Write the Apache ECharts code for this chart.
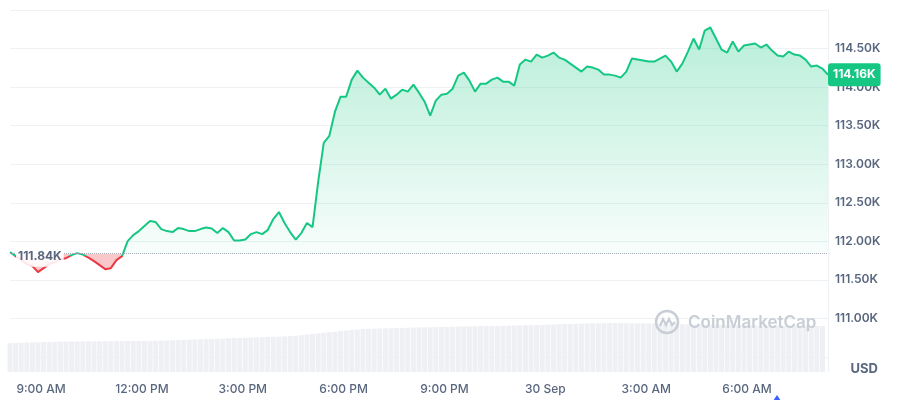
<!DOCTYPE html>
<html>
<head>
<meta charset="utf-8">
<script src="https://cdn.jsdelivr.net/npm/echarts@6/dist/echarts.min.js"></script>
<style>
html,body{margin:0;padding:0;background:#fff;}
#chart{width:900px;height:400px;}
</style>
</head>
<body>
<div id="chart"></div>
<script>
// ---- data ----
const startHour = 8.075;          // hours since 29 Sep 00:00
const stepHours = 1 / 6;          // 10-minute samples
const priceK = [
  111.860,111.808,111.756,111.704,111.678,111.600,111.652,111.704,111.730,111.769,
  111.782,111.821,111.847,111.828,111.789,111.743,111.691,111.639,111.652,111.756,
  111.808,112.003,112.081,112.133,112.198,112.263,112.250,112.159,112.133,112.120,
  112.172,112.159,112.133,112.133,112.159,112.179,112.166,112.107,112.172,112.120,
  112.010,112.010,112.023,112.094,112.120,112.094,112.146,112.289,112.380,112.237,
  112.120,112.023,112.107,112.237,112.185,112.770,113.278,113.369,113.681,113.876,
  113.876,114.097,114.214,114.123,114.058,113.993,113.902,113.980,113.850,113.902,
  113.967,113.941,114.032,113.928,113.811,113.629,113.824,113.902,113.915,113.980,
  114.149,114.188,114.084,113.941,114.045,114.045,114.097,114.123,114.071,114.071,
  114.019,114.292,114.357,114.331,114.422,114.383,114.409,114.448,114.383,114.357,
  114.305,114.253,114.201,114.266,114.253,114.227,114.162,114.162,114.149,114.123,
  114.201,114.370,114.357,114.344,114.331,114.331,114.370,114.409,114.331,114.201,
  114.305,114.461,114.630,114.487,114.734,114.773,114.630,114.487,114.448,114.591,
  114.461,114.539,114.552,114.565,114.513,114.552,114.474,114.409,114.396,114.461,
  114.422,114.409,114.357,114.266,114.279,114.240,114.160
];
const volumeRel = [
  28.7,29,29.2,29.4,29.6,29.8,30,30.1,30.3,
  30.4,30.4,30.5,30.5,30.6,30.6,30.7,30.7,30.8,30.8,30.9,30.9,31,31,31.1,31.1,31.2,31.2,31.3,
  31.5,31.7,31.9,32.1,32.3,32.5,32.7,32.9,33.1,33.3,33.5,33.7,33.9,34.0,34.2,
  34.4,34.6,34.8,35,35.2,35.4,35.6,35.9,
  36.2,36.8,37.4,38,38.6,39.2,39.8,
  40.3,40.9,41.5,42,42.5,43,
  43.2,43.4,43.5,43.7,43.8,44,44.1,44.3,44.4,44.5,44.7,44.8,44.9,45,45.2,45.3,
  45.4,45.5,45.6,45.7,45.8,45.9,46,46.1,46.2,46.3,46.5,46.6,46.7,46.8,47,
  47.2,47.4,47.5,47.7,47.9,48.0,48.2,48.4,48.5,48.7,
  48.8,48.8,48.9,48.9,48.9,48.8,48.8,48.7,48.7,
  48.6,48.5,48.4,48.3,48.1,48,47.8,47.7,
  47.6,47.5,47.4,47.3,47.2,47.1,47,46.9,46.8,46.7,
  46.6,46.6,46.5,46.5,46.4,46.4,46.3,46.3,46.2,46.2,46.1,46.1,46.0,46.0,null
];
const baseK = 111.84;
const lastK = 114.16;
const xTickHours = [9, 12, 15, 18, 21, 24, 27, 30];
const xTickLabels = ['9:00 AM', '12:00 PM', '3:00 PM', '6:00 PM', '9:00 PM', '30 Sep', '3:00 AM', '6:00 AM'];
const yMinK = 110.5, yMaxK = 115, yStepK = 0.5;
const yHiddenLabels = [110.5, 115];

// ---- build ----
const GREEN = '#16c784', RED = '#ea3943', LABEL = '#58667e', GRID = '#eff2f5', MARK = '#c9ced6';
const FONT = 'Inter, "Noto Sans", sans-serif';
const times = priceK.map((_, i) => startHour + i * stepHours);
const xMin = times[0], xMax = times[times.length - 1];
const priceData = priceK.map((v, i) => [times[i], v]);
const volData = volumeRel.map((v, i) => [times[i], v]);
const pMax = Math.max(...priceK), pMin = Math.min(...priceK);
const frac = (pMax - baseK) / (pMax - pMin);

const lineGrad = new echarts.graphic.LinearGradient(0, 0, 0, 1, [
  {offset: 0, color: GREEN}, {offset: frac, color: GREEN},
  {offset: frac, color: RED}, {offset: 1, color: RED}
]);
const areaGrad = new echarts.graphic.LinearGradient(0, 0, 0, 1, [
  {offset: 0, color: 'rgba(22,199,132,0.30)'},
  {offset: frac, color: 'rgba(22,199,132,0.03)'},
  {offset: frac, color: 'rgba(234,57,67,0.28)'},
  {offset: 1, color: 'rgba(234,57,67,0.28)'}
]);

const chart = echarts.init(document.getElementById('chart'), null, {renderer: 'canvas'});
chart.setOption({
  animation: false,
  backgroundColor: '#fff',
  textStyle: {fontFamily: FONT},
  grid: [
    {left: 10, right: 72, top: 10, bottom: 43},
    {left: 10, right: 72, top: 300, bottom: 28}
  ],
  xAxis: [
    {type: 'value', gridIndex: 0, min: xMin, max: xMax, show: false},
    {type: 'value', gridIndex: 1, min: xMin, max: xMax,
     axisLine: {show: false}, axisTick: {show: false}, splitLine: {show: false},
     axisLabel: {
       customValues: xTickHours, margin: 11, color: LABEL, fontSize: 12, fontWeight: 500, fontFamily: FONT,
       formatter: v => { const k = xTickHours.indexOf(Math.round(v)); return k >= 0 ? xTickLabels[k] : ''; }
     }}
  ],
  yAxis: [
    {type: 'value', gridIndex: 0, position: 'right', min: yMinK, max: yMaxK, interval: yStepK,
     axisLine: {show: true, lineStyle: {color: GRID}}, axisTick: {show: false},
     splitLine: {show: true, lineStyle: {color: GRID, width: 1}},
     axisLabel: {margin: 7, color: LABEL, fontSize: 12, fontWeight: 600, fontFamily: FONT,
       formatter: v => yHiddenLabels.some(h => Math.abs(h - v) < 1e-6) ? '' : v.toFixed(2) + 'K'}},
    {type: 'value', gridIndex: 1, position: 'right', min: 0, max: 72,
     axisLine: {show: true, lineStyle: {color: GRID}}, axisTick: {show: false},
     axisLabel: {show: false}, splitLine: {show: false}}
  ],
  series: [
    {
      type: 'bar', xAxisIndex: 1, yAxisIndex: 1, data: volData, barWidth: 5,
      itemStyle: {color: '#eef0f4'}, silent: true
    },
    {
      type: 'line', xAxisIndex: 0, yAxisIndex: 0, data: priceData,
      showSymbol: false, symbol: 'none', silent: true, z: 3,
      lineStyle: {width: 2, color: lineGrad},
      itemStyle: {color: GREEN},
      areaStyle: {origin: baseK, color: areaGrad, opacity: 1},
      markLine: {
        silent: true, symbol: ['none', 'none'],
        label: {show: false},
        lineStyle: {type: 'dotted', color: '#a3aab6', width: 1},
        data: [{yAxis: baseK}]
      },
      markPoint: {
        silent: true, symbol: 'circle', symbolSize: 0,
        data: [
          {coord: [xMin, baseK],
           label: {show: true, position: 'right', distance: 6, offset: [0, 3], formatter: baseK.toFixed(2) + 'K',
             color: LABEL, fontSize: 12, fontWeight: 700, fontFamily: FONT,
             backgroundColor: 'rgba(255,255,255,0.88)', padding: [3, 2, 5, 2]}},
          {coord: [xMax, lastK],
           label: {show: true, position: 'right', distance: 0, formatter: lastK.toFixed(2) + 'K',
             color: '#fff', fontSize: 12, fontWeight: 700, fontFamily: FONT,
             backgroundColor: GREEN, padding: [6, 5, 5, 5], borderRadius: 3}}
        ]
      }
    }
  ],
  graphic: [
    {type: 'text', right: 22, bottom: 24, z: 100,
     style: {text: 'USD', fill: LABEL, font: '700 13px ' + FONT}},
    {type: 'circle', z: 100, shape: {cx: 667, cy: 322, r: 11}, style: {fill: 'none', stroke: MARK, lineWidth: 2.5}},
    {type: 'polyline', z: 100, shape: {points: [[660, 326], [663, 319], [666, 325], [669, 319], [672, 325], [675, 322]]},
     style: {fill: 'none', stroke: MARK, lineWidth: 2.2}},
    {type: 'text', z: 100, x: 688, y: 323,
     style: {text: 'CoinMarketCap', fill: MARK, font: '600 17px ' + FONT, verticalAlign: 'middle'}},
    {type: 'polygon', z: 100, shape: {points: [[773, 401], [777, 395], [781, 401]]}, style: {fill: '#3861fb'}}
  ]
});
</script>
</body>
</html>
